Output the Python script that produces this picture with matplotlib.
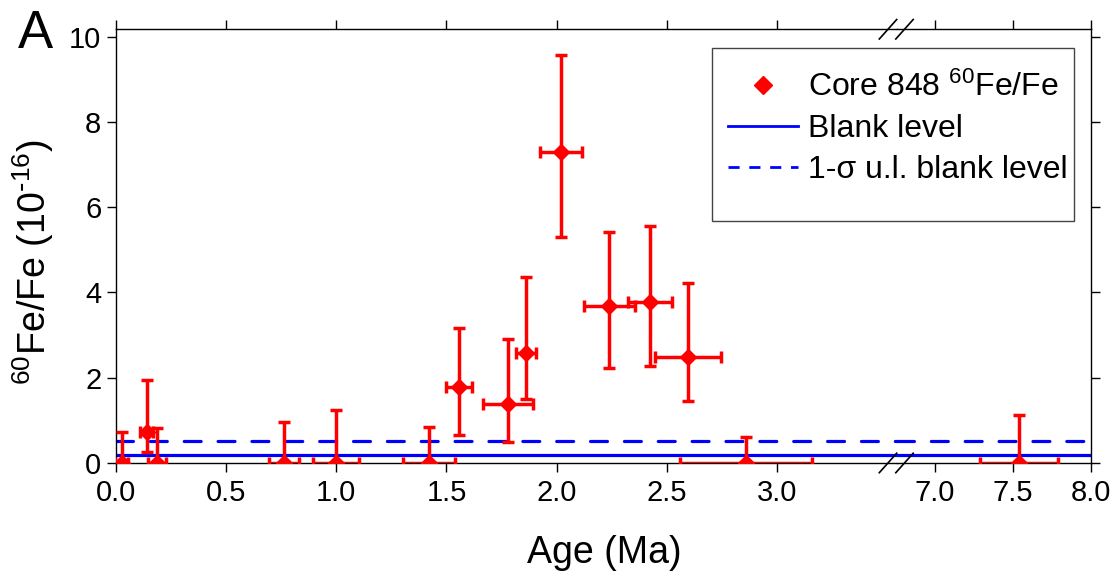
import matplotlib
matplotlib.use("Agg")
import matplotlib.pyplot as plt
from matplotlib.lines import Line2D
from matplotlib.patches import Rectangle

plt.rcParams['font.family'] = ['Liberation Sans', 'DejaVu Sans']
plt.rcParams['mathtext.default'] = 'regular'

# core 848 60Fe/Fe data (age in Ma, ratio in 1e-16)
age = [0.026, 0.139, 0.185, 0.762, 0.998, 1.421, 1.557, 1.78, 1.86, 2.018, 2.24, 2.425, 2.597, 2.86, 7.54]
ratio = [0.0, 0.72, 0.0, 0.0, 0.0, 0.0, 1.79, 1.37, 2.57, 7.30, 3.68, 3.78, 2.49, 0.0, 0.0]
ratio_lo = [0.0, 0.46, 0.0, 0.0, 0.0, 0.0, 1.15, 0.88, 1.08, 1.99, 1.46, 1.51, 1.04, 0.0, 0.0]
ratio_hi = [0.71, 1.22, 0.82, 0.96, 1.24, 0.85, 1.38, 1.54, 1.79, 2.28, 1.75, 1.78, 1.73, 0.60, 1.12]
age_err = [0.03, 0.03, 0.04, 0.067, 0.105, 0.12, 0.06, 0.115, 0.045, 0.095, 0.115, 0.10, 0.15, 0.30, 0.25]

blank_level = 0.18
blank_ul = 0.51

left_ticks = [0.0, 0.5, 1.0, 1.5, 2.0, 2.5, 3.0]
right_ticks = [7.0, 7.5, 8.0]
y_ticks = [0, 2, 4, 6, 8, 10]

red = '#ff0000'
blue = '#0000ff'

fig = plt.figure(figsize=(11.15, 5.77), dpi=100)
x0, xb, x1 = 116 / 1115, 897 / 1115, 1091 / 1115
yb, yt = 1 - 462.7 / 577, 1 - 29 / 577
ax1 = fig.add_axes([x0, yb, xb - x0, yt - yb])
ax2 = fig.add_axes([xb, yb, x1 - xb, yt - yb])

ax1.set_xlim(0, 3.545)
ax2.set_xlim(6.756, 8.0)
for ax in (ax1, ax2):
    ax.set_ylim(0, 10.19)
    ax.axhline(blank_level, color=blue, lw=2.3, zorder=2)
    ax.axhline(blank_ul, color=blue, lw=2.3, ls=(0, (5.3, 5.3)), dash_capstyle='round', zorder=2)
    ax.tick_params(direction='out', length=6.5, width=1, labelsize=21, top=True)
    for s in ax.spines.values():
        s.set_linewidth(1)

for xs, ax in ((lambda a: a < 5, ax1), (lambda a: a >= 5, ax2)):
    idx = [i for i in range(len(age)) if xs(age[i])]
    ax.errorbar([age[i] for i in idx], [ratio[i] for i in idx],
                yerr=[[ratio_lo[i] for i in idx], [ratio_hi[i] for i in idx]],
                xerr=[age_err[i] for i in idx],
                fmt='D', color=red, ms=8.3, elinewidth=2.5, capsize=4.5, capthick=2.5, zorder=3)

ax1.spines['right'].set_visible(False)
ax1.set_xticks(left_ticks)
ax1.set_xticklabels(['%.1f' % t for t in left_ticks])
ax1.set_yticks(y_ticks)
ax1.tick_params(axis='y', right=False, pad=4)
ax1.tick_params(axis='x', pad=5)

ax2.spines['left'].set_visible(False)
ax2.set_xticks(right_ticks)
ax2.set_xticklabels(['%.1f' % t for t in right_ticks])
ax2.set_yticks(y_ticks)
ax2.tick_params(axis='y', left=False, labelleft=False, right=True)
ax2.tick_params(axis='x', pad=5)

# break marks
for yy in (yb, yt):
    for dx in (0, 16.5):
        xa = (879.3 + dx) / 1115
        xc = (896.7 + dx) / 1115
        fig.add_artist(Line2D([xa, xc], [yy - 10 / 577, yy + 9.5 / 577], color='black', lw=1.2,
                              transform=fig.transFigure))

fig.text(0.030, 0.546, r'$^{60}$Fe/Fe (10$^{\text{-}16}$)', rotation=90, ha='center', va='center', fontsize=27)
fig.text(0.5417, 0.0243, 'Age (Ma)', ha='center', va='baseline', fontsize=27)
fig.text(0.0161, 0.9168, 'A', ha='left', va='baseline', fontsize=38)

# legend
fig.add_artist(Rectangle((712 / 1115, 1 - 221 / 577), (1074 - 712) / 1115, (221 - 48) / 577,
                         transform=fig.transFigure, fill=False, edgecolor='#444444', lw=1))
handles = [
    Line2D([], [], ls='none', marker='D', color=red, ms=9.5),
    Line2D([], [], color=blue, lw=2),
    Line2D([], [], color=blue, lw=2, ls=(0, (4, 3.5))),
]
labels = [r'Core 848 $^{60}$Fe/Fe', 'Blank level', '1-σ u.l. blank level']
fig.legend(handles, labels, loc='upper left', bbox_to_anchor=(728 / 1115, 1 - 72 / 577),
           frameon=False, fontsize=23, handlelength=2.2, handletextpad=0.3,
           labelspacing=0.34, borderpad=0, borderaxespad=0)

fig.savefig('out.png', dpi=100)
